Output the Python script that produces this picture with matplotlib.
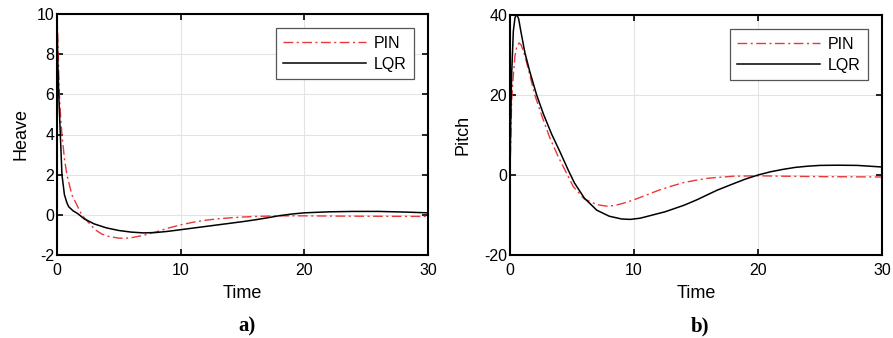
import numpy as np
import matplotlib
matplotlib.use("Agg")
import matplotlib.pyplot as plt

plt.rcParams["font.family"] = ["Liberation Sans", "DejaVu Sans"]
plt.rcParams["axes.unicode_minus"] = False

# heave response
heave_t_lqr = [0, 0.05, 0.14, 0.27, 0.4, 0.6, 0.8, 0.95, 1.3, 1.7, 2.2, 3, 4, 5, 6, 7, 8, 9,
               10, 11, 12, 13, 14, 15, 16, 17, 18, 19, 20, 22, 24, 26, 28, 30]
heave_lqr = [10, 8, 6, 4, 2, 1.0, 0.6, 0.4, 0.2, 0.05, -0.2, -0.45, -0.65, -0.78, -0.86, -0.9,
             -0.88, -0.82, -0.74, -0.66, -0.58, -0.5, -0.42, -0.34, -0.25, -0.15, -0.04, 0.04,
             0.1, 0.15, 0.17, 0.17, 0.14, 0.1]
heave_t_pin = [0, 0.1, 0.19, 0.3, 0.4, 0.6, 0.8, 1.0, 1.2, 1.6, 2.0, 2.5, 3.1, 3.6, 4.2, 5.0,
               5.5, 6, 7, 8, 9, 10, 11, 12, 13, 14, 15, 16, 18, 20, 22, 25, 30]
heave_pin = [10, 8, 6, 4.8, 4, 2.8, 2, 1.5, 1, 0.5, 0, -0.35, -0.75, -0.95, -1.08, -1.16,
             -1.17, -1.14, -1.02, -0.85, -0.66, -0.5, -0.37, -0.27, -0.2, -0.15, -0.11, -0.08,
             -0.05, -0.05, -0.06, -0.07, -0.08]

# pitch response
pitch_t_lqr = [0, 0.05, 0.13, 0.27, 0.4, 0.54, 0.7, 0.9, 1.2, 1.6, 2.15, 2.7, 3.36, 4, 4.7,
               5.2, 6, 7, 8, 9, 9.7, 10.5, 11.5, 12.5, 14, 15, 16.7, 18, 19, 20, 21, 22, 23,
               24, 25, 26.4, 28, 29, 30]
pitch_lqr = [0, 12, 25, 36, 39.3, 40.2, 39, 35.5, 30.6, 25.8, 20, 15.2, 10.2, 6, 1.2, -2,
             -5.8, -8.8, -10.3, -11, -11.1, -10.8, -10, -9.2, -7.6, -6.3, -3.8, -2.2, -1.0, 0,
             0.8, 1.4, 1.9, 2.2, 2.4, 2.45, 2.4, 2.2, 2.0]
pitch_t_pin = [0, 0.13, 0.27, 0.4, 0.55, 0.73, 0.9, 1.2, 1.6, 2.0, 2.6, 3.2, 3.9, 4.57, 5.1,
               6, 7, 7.8, 8.5, 9.2, 10, 11, 12, 13, 14, 15, 16, 18, 20, 22, 25, 30]
pitch_pin = [0, 18.4, 25, 29.8, 32.2, 33, 32.5, 29.8, 25, 20, 14.5, 9.4, 4.5, 0.4, -2.9, -6,
             -7.4, -7.8, -7.6, -7.0, -6.2, -5, -3.8, -2.8, -1.9, -1.3, -0.8, -0.3, -0.2, -0.3,
             -0.4, -0.5]

red = "#e8383a"

fig = plt.figure(figsize=(8.93, 3.38), dpi=100)
ax1 = fig.add_axes([57 / 893, 1 - 255 / 338, 371 / 893, 241 / 338])
ax2 = fig.add_axes([510 / 893, 1 - 255 / 338, 372 / 893, 240 / 338])

panels = [
    (ax1, heave_t_pin, heave_pin, heave_t_lqr, heave_lqr, "Heave", (-2, 10), range(-2, 11, 2), "a)", 5),
    (ax2, pitch_t_pin, pitch_pin, pitch_t_lqr, pitch_lqr, "Pitch", (-20, 40), range(-20, 41, 20), "b)", 9),
]

for ax, tp, yp, tl, yl, ylab, ylim, yticks, tag, ypad in panels:
    ax.plot(tp, yp, color=red, lw=1.0, ls=(0, (7, 2.5, 1.5, 2.5)), label="PIN")
    ax.plot(tl, yl, color="black", lw=1.1, label="LQR")
    ax.set_xlim(0, 30)
    ax.set_ylim(*ylim)
    ax.set_xticks([0, 10, 20, 30])
    ax.set_yticks(list(yticks))
    ax.grid(True, color="#e3e3e3", lw=0.8)
    ax.set_axisbelow(True)
    ax.tick_params(direction="in", top=True, right=True, length=4, width=1.2,
                   labelsize=11.5, pad=2)
    ax.tick_params(axis="x", pad=6)
    for s in ax.spines.values():
        s.set_linewidth(1.5)
    ax.set_xlabel("Time", fontsize=13, labelpad=5)
    ax.set_ylabel(ylab, fontsize=13, labelpad=ypad)
    leg = ax.legend(loc="upper right", bbox_to_anchor=(0.962, 0.94), borderaxespad=0,
                    fontsize=11.5, fancybox=False, framealpha=1, edgecolor="#555555",
                    handlelength=5.2, handletextpad=0.5, borderpad=0.45, labelspacing=0.4)
    leg.get_frame().set_linewidth(0.9)
    pos = ax.get_position()
    fig.text((pos.x0 + pos.x1) / 2 + 0.005, 1 - 326 / 338, tag, ha="center", va="center",
             fontsize=15, fontweight="bold", family="Liberation Serif")

fig.savefig("out.png", dpi=100)
